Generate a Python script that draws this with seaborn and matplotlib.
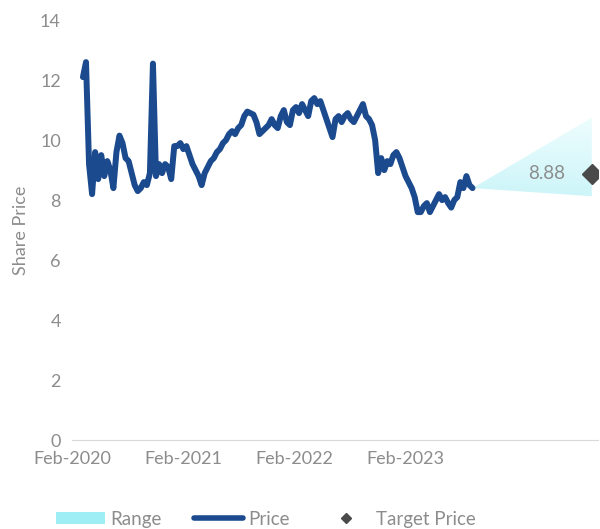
import numpy as np
import pandas as pd
import matplotlib
matplotlib.use("Agg")
import matplotlib.pyplot as plt
import matplotlib.dates as mdates
from matplotlib.patches import Patch, Polygon
from matplotlib.lines import Line2D
import seaborn as sns

# ---- data -------------------------------------------------------------
price_start = "2020-03-08"
price_freq = "10D"
prices = [
    12.1, 12.6, 9.2, 8.2, 9.6, 8.7, 9.5, 8.8, 9.3, 9.0,
    8.4, 9.6, 10.15, 9.9, 9.4, 9.3, 8.9, 8.5, 8.3, 8.4,
    8.6, 8.5, 8.9, 12.55, 8.8, 9.2, 8.9, 9.2, 9.1, 8.7,
    9.8, 9.8, 9.9, 9.7, 9.8, 9.5, 9.2, 9.0, 8.8, 8.5,
    8.9, 9.1, 9.3, 9.4, 9.6, 9.7, 9.9, 10.0, 10.2, 10.3,
    10.2, 10.4, 10.5, 10.8, 10.95, 10.9, 10.85, 10.6, 10.2, 10.3,
    10.4, 10.5, 10.7, 10.5, 10.4, 10.8, 11.0, 10.6, 10.5, 11.0,
    11.1, 10.9, 11.2, 11.0, 10.8, 11.3, 11.4, 11.2, 11.3, 11.0,
    10.7, 10.4, 10.1, 10.7, 10.8, 10.6, 10.8, 10.9, 10.7, 10.6,
    10.8, 11.0, 11.2, 10.8, 10.7, 10.5, 10.0, 8.9, 9.4, 9.0,
    9.3, 9.2, 9.5, 9.6, 9.4, 9.1, 8.8, 8.6, 8.4, 8.1,
    7.6, 7.6, 7.8, 7.9, 7.6, 7.8, 8.0, 8.2, 8.0, 8.1,
    7.9, 7.75, 8.0, 8.1, 8.6, 8.4, 8.8, 8.5, 8.4,
]
target_date = "2024-10-05"
target_price = 8.88
range_high = 10.75
range_low = 8.13
tick_dates = ["2020-02-01", "2021-02-01", "2022-02-01", "2023-02-01"]
tick_labels = ["Feb-2020", "Feb-2021", "Feb-2022", "Feb-2023"]

df = pd.DataFrame({
    "date": pd.date_range(price_start, periods=len(prices), freq=price_freq),
    "price": prices,
})

# ---- style ------------------------------------------------------------
sns.set_style("white")
plt.rcParams["font.family"] = ["Lato", "DejaVu Sans"]
grey = "#8c8c8c"
navy = "#1b4a8e"

fig = plt.figure(figsize=(6.0, 5.29), dpi=100)
ax = fig.add_axes([0.12, 0.168, 0.877, 0.794])

# forecast cone filled with a vertical cyan gradient
last_date = df["date"].iloc[-1]
last_price = df["price"].iloc[-1]
x0 = mdates.date2num(last_date)
x1 = mdates.date2num(pd.Timestamp(target_date))
cone = Polygon([[x0, last_price], [x1, range_high], [x1, range_low]],
               closed=True, facecolor="none", edgecolor="none")
ax.add_patch(cone)
grad = np.linspace(0, 1, 256).reshape(-1, 1)
cmap = matplotlib.colors.LinearSegmentedColormap.from_list(
    "cone", ["#cdf5f9", "#eefdfe"])
img = ax.imshow(grad, cmap=cmap, aspect="auto", origin="lower",
                extent=[x0, x1, range_low, range_high], zorder=1)
img.set_clip_path(cone)

sns.lineplot(data=df, x="date", y="price", ax=ax, color=navy,
             linewidth=4.3, solid_capstyle="round", solid_joinstyle="round",
             zorder=3)

ax.plot([pd.Timestamp(target_date)], [target_price], marker="D",
        markersize=10, color="#4a4a4a", linestyle="none", zorder=4)
ax.annotate(f"{target_price:.2f}", (pd.Timestamp(target_date), target_price),
            xytext=(-19, 0), textcoords="offset points", ha="right",
            va="center", color=grey, fontsize=13.5)

# ---- axes -------------------------------------------------------------
ax.set_ylim(0, 14)
ax.set_yticks(range(0, 15, 2))
ax.set_xlim(pd.Timestamp("2020-02-01"), pd.Timestamp("2024-10-26"))
ax.set_xticks(pd.to_datetime(tick_dates))
ax.set_xticklabels(tick_labels)
ax.tick_params(axis="both", colors=grey, labelsize=13, length=0, pad=8)
ax.set_xlabel("")
ax.set_ylabel("Share Price", color=grey, fontsize=13, labelpad=8)
for side in ["left", "right", "top"]:
    ax.spines[side].set_visible(False)
ax.spines["bottom"].set_color("#d9d9d9")
ax.grid(False)

# ---- legend -----------------------------------------------------------
handles = [
    Patch(facecolor="#9deef5", edgecolor="none"),
    Line2D([], [], color=navy, linewidth=4, solid_capstyle="round"),
    Line2D([], [], color="#4a4a4a", marker="D", markersize=5, linestyle="none"),
]
fig.legend(handles, ["Range", "Price", "Target Price"], loc="lower left",
           bbox_to_anchor=(0.072, -0.022), ncol=3, frameon=False, fontsize=13.5,
           labelcolor=grey, handlelength=2.6, handleheight=0.6,
           columnspacing=1.7, handletextpad=0.3, borderpad=0.2)

fig.savefig("out.png", dpi=100)
